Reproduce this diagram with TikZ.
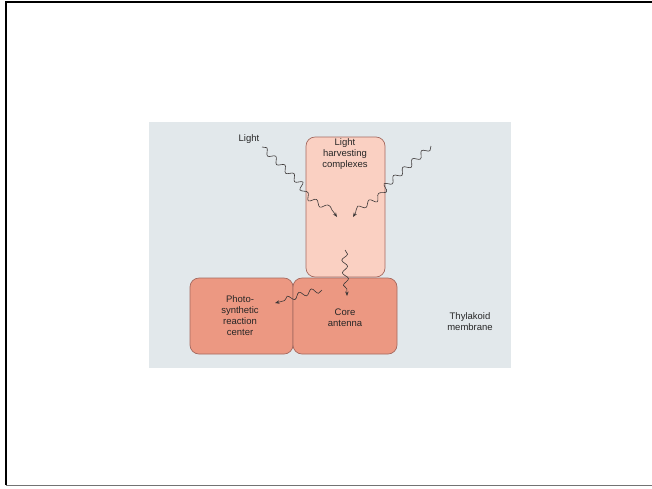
\documentclass[tikz,border=0pt]{standalone}
\usepackage{fontspec}
\setmainfont{Liberation Sans}
\usetikzlibrary{arrows.meta,decorations.pathmorphing}
\definecolor{membgray}{RGB}{226,232,235}
\definecolor{lhcpink}{RGB}{250,208,194}
\definecolor{coresalm}{RGB}{236,152,130}
\definecolor{boxedge}{RGB}{165,105,95}
\definecolor{wavecol}{RGB}{60,55,55}

\begin{document}
\begin{tikzpicture}[x=1pt,y=-1pt,
    every node/.style={font=\fontsize{9.5}{11}\selectfont,text=black!85,align=center},
    cplx/.style={draw=boxedge,line width=0.7pt,rounded corners=9pt},
    photon/.style={wavecol,line width=0.6pt,
      decoration={snake,segment length=12.5pt,amplitude=2.8pt,post length=5pt},
      decorate,-{Stealth[length=4.5pt,width=3.5pt]}}]

    \useasboundingbox (0,0) rectangle (652,488);

    % Slide frame
    \draw[black,line width=1.8pt] (6,485) -- (6,2.2) -- (652,2.2);
    \draw[black!55,line width=1.2pt] (6,485.3) -- (652,485.3);

    % Membrane background
    \fill[membgray] (149,122) rectangle (511,368);

    % Light harvesting complexes
    \draw[cplx,fill=lhcpink] (306,137) rectangle (385,277);
    % Photosynthetic reaction center and core antenna
    \draw[cplx,fill=coresalm] (190,278) rectangle (293,354);
    \draw[cplx,fill=coresalm] (293,278) rectangle (397,354);

    % Photon paths
    \coordinate (lightL) at (262,147);
    \coordinate (lightR) at (431,146);
    \coordinate (hitL) at (337,217);
    \coordinate (hitR) at (353,217);
    \coordinate (lhcOut) at (345,250);
    \coordinate (coreIn) at (347,296);
    \coordinate (coreOut) at (322,290);
    \coordinate (rcIn) at (275,303);

    \draw[photon] (lightL) -- (301,184) .. controls (309,206) and (326,198) .. (hitL);
    \draw[photon] (lightR) -- (388,184) .. controls (380,206) and (363,198) .. (hitR);
    \draw[photon] (lhcOut) .. controls (344,265) and (347,280) .. (coreIn);
    \draw[photon] (coreOut) .. controls (306,292) and (290,300) .. (rcIn);

    % Labels
    \node (light) at (249,139) {Light};
    \node (lhc) at (345,154) {Light\\harvesting\\complexes};
    \node (rc) at (240,316) {Photo-\\synthetic\\reaction\\center};
    \node (core) at (345,318) {Core\\antenna};
    \node (thyl) at (470,322) {Thylakoid\\membrane};

  \end{tikzpicture}
\end{document}
